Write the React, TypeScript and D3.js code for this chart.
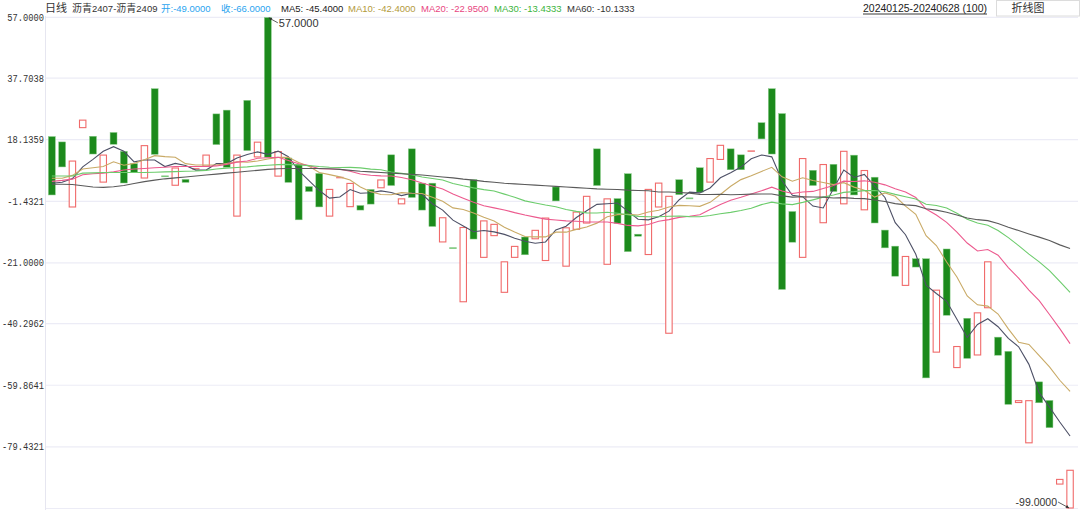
import React from 'react';
import * as d3 from 'd3';

const W = 1080;
const H = 512;

// 100 daily candles, 沥青2407-沥青2409 spread, 20240125-20240628
const OPEN: number[] = [
  19.2, 17.5, -3.4, 21.8, 19.3, 4.5, 20.5, 14.5, 10.6, 5.8,
  34.4, 6.6, 3.5, 5.6, 8.8, 9.6, 26.4, 27.6, -6.3, 30.7,
  12.5, 57.0, 6.4, 12.4, 10.4, 3.3, 7.5, -6.3, 6.0, -3.3,
  -2.7, 2.4, 2.7, 13.4, -2.4, 15.3, 4.4, 4.4, -14.5, -16.2,
  -33.5, 5.5, -19.4, -12.5, -30.5, -19.4, -12.7, -13.5, -20.4, 3.2,
  -22.2, -10.5, -8.5, 15.3, -21.6, -0.5, 7.4, -11.8, -18.5, -3.4,
  -43.5, 5.5, -0.4, 9.3, 4.5, 11.7, 15.3, 13.4, 14.4, 23.6,
  34.4, 26.5, -4.6, -19.4, 8.5, -8.4, 10.4, -2.4, 13.3, -4.3,
  6.3, -10.5, -15.6, -28.3, -19.6, -19.6, -49.5, -16.5, -54.4, -38.5,
  -50.4, -35.4, -44.5, -49.0, -65.5, -78.3, -58.7, -64.6, -91.4, -99.0,
];
const CLOSE: number[] = [
  0.5, 9.4, 11.5, 24.5, 13.5, 13.4, 16.6, 4.3, 7.7, 16.4,
  13.4, 6.2, 9.3, 4.5, 9.0, 13.4, 16.5, 9.3, 13.4, 14.6,
  17.5, 12.5, 14.5, 4.5, -7.4, 1.6, -3.3, 2.5, 6.2, 4.4,
  -4.3, -2.4, 5.5, 3.5, -0.5, -0.3, -4.3, -9.5, -6.5, -16.5,
  -9.6, -13.5, -7.5, -8.6, -20.5, -15.6, -18.5, -10.5, -6.6, -1.4,
  -9.7, -4.7, 0.3, 3.5, -0.5, -8.5, -17.5, -12.6, 2.5, 4.5,
  0.3, 0.6, -0.6, 1.4, 12.3, 16.5, 8.5, 8.5, 14.6, 18.3,
  13.5, -29.5, -14.5, 12.3, 3.5, 10.4, 1.6, 14.6, 0.5, 8.5,
  -8.4, -16.3, -25.3, -18.8, -22.4, -57.6, -29.5, -37.7, -47.4, -51.4,
  -36.7, -20.5, -50.4, -66.0, -64.6, -64.6, -65.5, -73.4, -89.6, -86.7,
];

const MA5_HEAD = [4.3, 4.6, 5.8, 9.5];
const MA10_HEAD = [5.9, 5.9, 6.8, 8.8, 9.2, 9.6, 11.1, 10.0, 10.6];
const MA20_HEAD = [4.9, 5.2, 5.6, 7.0, 7.3, 7.5, 7.9, 8.5, 8.8, 9.0, 9.2, 9.4, 9.6, 9.6, 9.6, 9.6, 9.8, 10.3, 11.0];
const MA30_HEAD = [
  6.6, 6.6, 6.6, 7.5, 7.6, 7.7, 7.7, 7.7, 7.7, 7.7,
  7.8, 7.9, 8.0, 8.1, 8.2, 8.4, 8.8, 9.1, 9.3, 9.5,
  9.8, 10.0, 10.2, 10.3, 10.1, 9.9, 9.6, 9.4, 9.3,
];
const MA60_HEAD = [
  4.0, 4.0, 3.9, 3.5, 3.1, 3.0, 3.2, 3.6, 4.2, 4.8,
  5.3, 5.7, 6.0, 6.3, 6.6, 6.9, 7.2, 7.5, 7.8, 8.1,
  8.4, 8.7, 8.9, 9.0, 9.0, 9.0, 9.0, 8.9, 8.7, 8.4,
  8.1, 7.9, 7.7, 7.5, 7.3, 7.1, 6.9, 6.6, 6.3, 6.0,
  5.6, 5.3, 4.9, 4.6, 4.3, 4.1, 3.9, 3.7, 3.5, 3.3,
  3.1, 2.9, 2.7, 2.5, 2.4, 2.3, 2.1, 2.0, 1.9,
];

const Y_TICKS = [57, 37.7038, 18.1359, -1.4321, -21, -40.2962, -59.8641, -79.4321];
const Y_MIN = -99;
const Y_MAX = 57;

const MA_DEFS = [
  { n: 5, head: MA5_HEAD, color: '#4d5066' },
  { n: 10, head: MA10_HEAD, color: '#c9aa66' },
  { n: 20, head: MA20_HEAD, color: '#ec5a8e' },
  { n: 30, head: MA30_HEAD, color: '#6ccc6c' },
  { n: 60, head: MA60_HEAD, color: '#5a5a5a' },
];

function movingAverage(closes: number[], n: number, head: number[]): number[] {
  return closes.map((_, i) =>
    i < n - 1 ? head[i] : (d3.mean(closes.slice(i - n + 1, i + 1)) as number)
  );
}

const HEADER_VALUES = [
  { t: '开:-49.0000', x: 161, c: '#2aa4ef' },
  { t: '收:-66.0000', x: 221, c: '#2aa4ef' },
  { t: 'MA5: -45.4000', x: 281, c: '#222222' },
  { t: 'MA10: -42.4000', x: 348, c: '#b39a3c' },
  { t: 'MA20: -22.9500', x: 421, c: '#e8467f' },
  { t: 'MA30: -13.4333', x: 494, c: '#3cb43c' },
  { t: 'MA60: -10.1333', x: 567, c: '#333333' },
];

export default function App() {
  const idx = d3.range(CLOSE.length);
  const x = d3.scaleBand<number>().domain(idx).range([46.7, 1075.2]).paddingInner(0.28).paddingOuter(0.14);
  const y = d3.scaleLinear().domain([Y_MIN, Y_MAX]).range([508.5, 17.3]);
  const bw = x.bandwidth();
  const cx = (i: number) => (x(i) as number) + bw / 2;

  const maSeries = MA_DEFS.map((d) => ({ ...d, values: movingAverage(CLOSE, d.n, d.head) }));
  const line = d3
    .line<number>()
    .x((_, i) => cx(i))
    .y((v) => y(v));

  const grid = [...Y_TICKS, Y_MIN];
  const hi = idx.map((i) => Math.max(OPEN[i], CLOSE[i]));
  const lo = idx.map((i) => Math.min(OPEN[i], CLOSE[i]));
  const maxV = d3.max(hi) as number;
  const minV = d3.min(lo) as number;
  const iMax = hi.indexOf(maxV);
  const iMin = lo.indexOf(minV);

  const mono = "'Liberation Mono','Noto Sans CJK SC',monospace";
  const sans = "'Liberation Sans','Noto Sans CJK SC',Arial,sans-serif";
  const cjk = "'Noto Sans CJK SC','Liberation Sans',sans-serif";

  return (
    <div style={{ position: 'fixed', left: 0, top: 0, width: W, height: H, background: '#fff' }}>
      <svg width={W} height={H} style={{ display: 'block' }}>
        <rect x={0} y={0} width={W} height={H} fill="#ffffff" />
        {/* grid */}
        {grid.map((v) => (
          <line key={'g' + v} x1={45.5} x2={1078} y1={y(v)} y2={y(v)} stroke="#ececf6" strokeWidth={1.2} />
        ))}
        <line x1={45.5} x2={45.5} y1={16} y2={510} stroke="#e6e6f0" strokeWidth={1} />
        {/* y labels */}
        {Y_TICKS.map((v) => {
          const s = v.toFixed(4);
          const w = s.length * 5.25;
          return (
            <text key={'t' + v} x={44 - w} y={y(v) + 3.5} fontSize={10} fontFamily={mono} fill="#333"
              textLength={w} lengthAdjust="spacingAndGlyphs">
              {s}
            </text>
          );
        })}
        {/* candles */}
        {idx.map((i) => {
          const o = OPEN[i];
          const c = CLOSE[i];
          const up = c >= o;
          const top = y(Math.max(o, c));
          const bot = y(Math.min(o, c));
          const h = Math.max(bot - top, 1);
          if (bot - top < 2) {
            return (
              <rect key={'c' + i} x={x(i) as number} y={top - 0.5} width={bw} height={1.6}
                fill={up ? '#f08080' : '#7cc87c'} />
            );
          }
          return up ? (
            <rect key={'c' + i} x={(x(i) as number) + 0.5} y={top + 0.5} width={bw - 1} height={h - 1}
              fill="#ffffff" stroke="#f06a6a" strokeWidth={1.1} />
          ) : (
            <rect key={'c' + i} x={(x(i) as number) + 0.25} y={top + 0.25} width={bw - 0.5} height={h - 0.5}
              fill="#1c8a1c" stroke="#88cc88" strokeWidth={0.5} />
          );
        })}
        {/* MA lines */}
        {maSeries.map((m) => (
          <path key={'m' + m.n} d={line(m.values) || ''} fill="none" stroke={m.color} strokeWidth={1.1} />
        ))}
        {/* max / min annotations */}
        <line x1={cx(iMax) + 1} y1={y(maxV) + 0.5} x2={cx(iMax) + 10} y2={y(maxV) + 5.5} stroke="#333" strokeWidth={0.8} />
        <path d={`M${cx(iMax) + 1},${y(maxV) + 0.5} l3.5,0.2 l-1.6,2.8 z`} fill="#333" />
        <text x={cx(iMax) + 11} y={y(maxV) + 9.5} fontSize={11} fontFamily={sans} fill="#333">
          {maxV.toFixed(4)}
        </text>
        <line x1={cx(iMin) - 12} y1={y(minV) - 6.5} x2={cx(iMin) - 1} y2={y(minV) - 0.5} stroke="#333" strokeWidth={0.8} />
        <path d={`M${cx(iMin) - 1},${y(minV) - 0.5} l-3.6,-0.2 l1.6,-2.8 z`} fill="#333" />
        <text x={cx(iMin) - 13} y={y(minV) - 3} textAnchor="end" fontSize={10.5} fontFamily={sans} fill="#333">
          {minV.toFixed(4)}
        </text>
        {/* header */}
        <text x={45} y={11.5} fontSize={11} fontFamily={cjk} fill="#333">日线</text>
        <text x={72} y={11.5} fill="#333">
          <tspan fontSize={10} fontFamily={cjk}>沥青</tspan>
          <tspan fontSize={9.5} fontFamily={sans}>2407-</tspan>
          <tspan fontSize={10} fontFamily={cjk}>沥青</tspan>
          <tspan fontSize={9.5} fontFamily={sans}>2409</tspan>
        </text>
        {HEADER_VALUES.map((h) => (
          <text key={h.t} x={h.x} y={11.5} fontSize={9.5} fontFamily={sans} fill={h.c}>
            {h.t}
          </text>
        ))}
        <text x={863} y={11.5} fontSize={11} fontFamily={sans} fill="#222"
          textLength={124} lengthAdjust="spacingAndGlyphs">
          20240125-20240628 (100)
        </text>
        <line x1={863} x2={987} y1={14} y2={14} stroke="#222" strokeWidth={0.9} />
        <rect x={996.5} y={0.5} width={83} height={15.5} fill="#fff" stroke="#dcdcdc" strokeWidth={1} />
        <text x={1028} y={12} textAnchor="middle" fontSize={11} fontFamily={cjk} fill="#333">折线图</text>
      </svg>
    </div>
  );
}
